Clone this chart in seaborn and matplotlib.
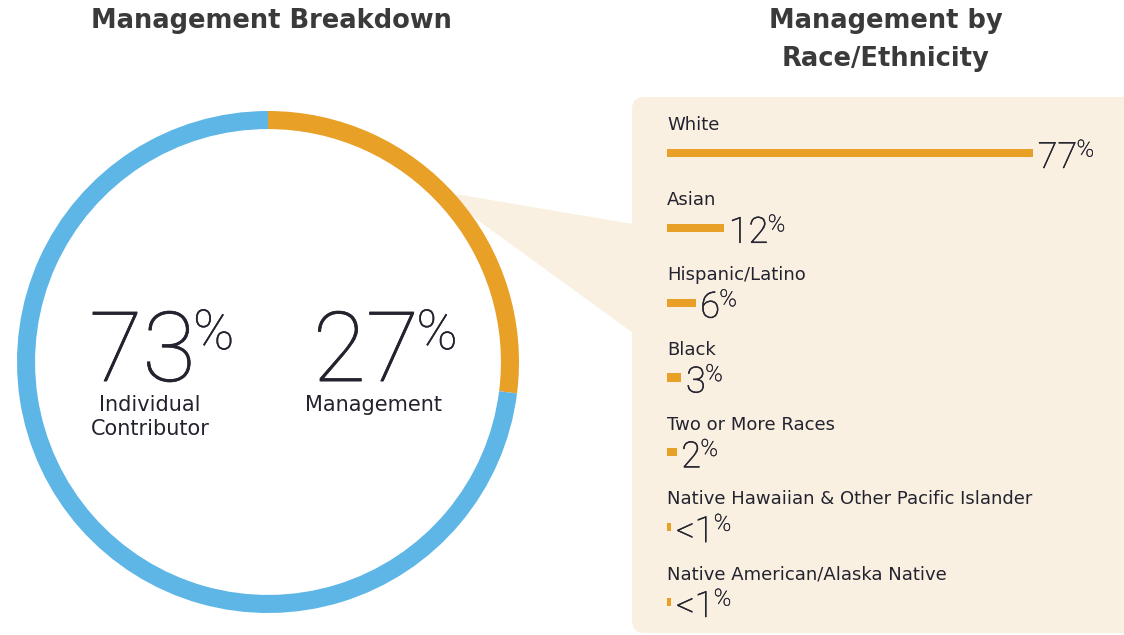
import pandas as pd
import matplotlib.pyplot as plt
import matplotlib.patheffects as pe
import seaborn as sns
from matplotlib.patches import FancyBboxPatch, Polygon
from matplotlib.transforms import IdentityTransform

# Data: overall split
split_labels = ["Management", "Individual\nContributor"]
split_values = [27, 73]
split_text = ["27", "73"]

# Data: management by race/ethnicity
groups = ["White", "Asian", "Hispanic/Latino", "Black", "Two or More Races",
          "Native Hawaiian & Other Pacific Islander", "Native American/Alaska Native"]
group_values = [77, 12, 6, 3, 2, 0.9, 0.9]
group_text = ["77", "12", "6", "3", "2", "<1", "<1"]

df = pd.DataFrame({"group": groups, "value": group_values})

ORANGE = "#E8A026"
BLUE = "#5DB6E6"
PANEL = "#FAF0E2"
INK = "#23232F"
TITLE = "#3A3A3A"
NUM_FONT = ["Roboto", "DejaVu Sans"]


def thick(lw):
    return [pe.withStroke(linewidth=lw, foreground=INK)]


sns.set_theme(style="white")
plt.rcParams['font.family'] = ['DejaVu Sans']

W, H = 1124, 635
fig = plt.figure(figsize=(W / 100, H / 100), dpi=100)
fig.patch.set_facecolor("white")

# Background panel and callout wedge (pixel coords)
panel = FancyBboxPatch((632, H - 633), 540, 536, boxstyle="round,pad=0,rounding_size=12",
                       transform=IdentityTransform(), fc=PANEL, ec="none", zorder=-3)
fig.add_artist(panel)
wedge = Polygon([(455, H - 194), (633, H - 224), (633, H - 333), (468, H - 213)],
                closed=True, transform=IdentityTransform(), fc=PANEL, ec="none", zorder=-2)
fig.add_artist(wedge)

# Titles
fig.text(271 / W, 1 - 21 / H, "Management Breakdown", ha="center", va="center",
         fontsize=18.5, fontweight="bold", color=TITLE)
fig.text(886 / W, 1 - 21 / H, "Management by", ha="center", va="center",
         fontsize=18.5, fontweight="bold", color=TITLE)
fig.text(886 / W, 1 - 59 / H, "Race/Ethnicity", ha="center", va="center",
         fontsize=18.5, fontweight="bold", color=TITLE)

# Donut
ax_pie = fig.add_axes([17 / W, (H - 613) / H, 502 / W, 502 / H])
ax_pie.pie(split_values, colors=[ORANGE, BLUE], startangle=90, counterclock=False,
           radius=1, wedgeprops=dict(width=0.072, edgecolor="none"))
ax_pie.set_xlim(-1, 1)
ax_pie.set_ylim(-1, 1)
ax_pie.axis("off")
ax_pie.patch.set_visible(False)

big_x = [0.39, -0.5]
for i, (lab, txt) in enumerate(zip(split_labels, split_text)):
    t = ax_pie.text(big_x[i], -0.076, txt, ha="center", va="baseline", fontsize=70,
                    family=NUM_FONT, fontweight="light", color=INK, path_effects=thick(0.5))
    ax_pie.annotate("%", xy=(1, 1), xycoords=t, xytext=(-2, 1), textcoords="offset points",
                    ha="left", va="top", fontsize=40, family=NUM_FONT,
                    fontweight="light", color=INK, path_effects=thick(0.2))
    ax_pie.text(big_x[i] + 0.03, -0.13, lab, ha="center", va="top", fontsize=15,
                color=INK, linespacing=1.28)

# Bars
ax_bar = fig.add_axes([667 / W, (H - 633) / H, (W - 667) / W, 536 / H])
sns.barplot(data=df, x="value", y="group", orient="h", color=ORANGE, saturation=1,
            width=0.107, linewidth=0, ax=ax_bar)
ax_bar.set_xlim(0, (W - 667) / 4.753)
ax_bar.set_ylim(6.414, -0.748)
ax_bar.axis("off")
ax_bar.patch.set_visible(False)

for i, (name, v, txt) in enumerate(zip(groups, group_values, group_text)):
    ax_bar.text(0, i - 0.37, name, ha="left", va="center", fontsize=13, color=INK)
    t = ax_bar.text(v + 1.0, i + 0.2, txt, ha="left", va="baseline", fontsize=26,
                    family=NUM_FONT, fontweight="light", color=INK, path_effects=thick(0.4))
    ax_bar.annotate("%", xy=(1, 1), xycoords=t, xytext=(-0.5, 1), textcoords="offset points",
                    ha="left", va="top", fontsize=17, family=NUM_FONT,
                    fontweight="light", color=INK, path_effects=thick(0.25))

fig.savefig("out.png", dpi=100)
